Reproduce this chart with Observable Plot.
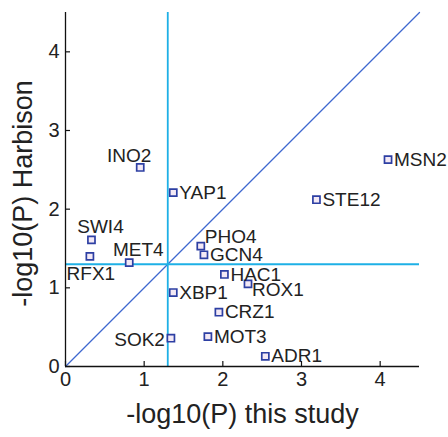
<!DOCTYPE html>
<html>
<head>
<meta charset="utf-8">
<script src="https://cdn.jsdelivr.net/npm/d3@7"></script>
<script src="https://cdn.jsdelivr.net/npm/@observablehq/plot@0.6"></script>
<style>
  html, body { margin: 0; padding: 0; background: #fff; }
</style>
</head>
<body>
<div id="chart"></div>
<script>
const names  = ["INO2","YAP1","MSN2","STE12","SWI4","RFX1","MET4","PHO4","GCN4","HAC1","ROX1","XBP1","CRZ1","MOT3","SOK2","ADR1"];
const xVals  = [0.95, 1.37, 4.10, 3.19, 0.33, 0.31, 0.81, 1.72, 1.76, 2.02, 2.32, 1.37, 1.95, 1.81, 1.34, 2.54];
const yVals  = [2.53, 2.21, 2.63, 2.12, 1.61, 1.40, 1.32, 1.53, 1.42, 1.17, 1.05, 0.94, 0.69, 0.38, 0.36, 0.13];
const labelPos = ["aboveLeft","right","right","right","aboveRight","below","aboveRight","rightUp","right","right","rightDown","right","right","right","left","right"];
const xTicks = [0, 1, 2, 3, 4];
const yTicks = [0, 1, 2, 3, 4];
const threshold = [1.3];
const axisMax = 4.5;
const xLabel = "-log10(P) this study";
const yLabel = "-log10(P) Harbison";

const data = names.map((n, i) => ({name: n, x: xVals[i], y: yVals[i], pos: labelPos[i]}));
const diag = [{x: 0, y: 0}, {x: axisMax, y: axisMax}];
const at = p => data.filter(d => d.pos === p);

const blue = "#2d3fa3";
const cyan = "#1eb0e6";
const font = 19;
const tickFont = 20;
const fmt = d3.format("d");

const chart = Plot.plot({
  width: 448,
  height: 437,
  marginLeft: 65,
  marginRight: 29,
  marginTop: 12,
  marginBottom: 71,
  x: {domain: [0, axisMax]},
  y: {domain: [0, axisMax]},
  style: {fontFamily: "'Liberation Sans', Arial, sans-serif", background: "#fff", color: "#222"},
  marks: [
    Plot.line(diag, {x: "x", y: "y", stroke: "#3f68cf", strokeWidth: 1.3}),
    Plot.ruleX(threshold, {x: d => d, y1: 0, y2: axisMax, stroke: cyan, strokeWidth: 1.8}),
    Plot.ruleY(threshold, {y: d => d, x1: 0, x2: axisMax, stroke: cyan, strokeWidth: 1.8}),
    Plot.ruleX([0], {x: d => d, y1: 0, y2: axisMax, stroke: "#111", strokeWidth: 1.3}),
    Plot.ruleY([0], {y: d => d, x1: 0, x2: axisMax, stroke: "#111", strokeWidth: 1.3}),
    Plot.ruleX(xTicks, {x: d => d, y1: 0, y2: 0, insetTop: -5, stroke: "#111", strokeWidth: 1.2}),
    Plot.ruleY(yTicks, {y: d => d, x1: 0, x2: 0, insetRight: -5, stroke: "#111", strokeWidth: 1.2}),
    Plot.axisX({ticks: xTicks, tickFormat: fmt, tickSize: 0, tickPadding: 5, fontSize: tickFont, label: null}),
    Plot.axisY({ticks: yTicks, tickFormat: fmt, tickSize: 0, tickPadding: 6, fontSize: tickFont, label: null}),
    Plot.dot(data, {x: "x", y: "y", symbol: "square", r: 4, stroke: blue, strokeWidth: 1.7, fill: "#f3e9f5"}),
    Plot.text(at("right"), {x: "x", y: "y", text: "name", textAnchor: "start", dx: 6, fontSize: font, fill: "#222"}),
    Plot.text(at("rightUp"), {x: "x", y: "y", text: "name", textAnchor: "start", dx: 4, dy: -9, fontSize: font, fill: "#222"}),
    Plot.text(at("rightDown"), {x: "x", y: "y", text: "name", textAnchor: "start", dx: 4, dy: 6, fontSize: font, fill: "#222"}),
    Plot.text(at("left"), {x: "x", y: "y", text: "name", textAnchor: "end", dx: -6, dy: 2, fontSize: font, fill: "#222"}),
    Plot.text(at("aboveRight"), {x: "x", y: "y", text: "name", textAnchor: "middle", dx: 9, dy: -13, fontSize: font, fill: "#222"}),
    Plot.text(at("aboveLeft"), {x: "x", y: "y", text: "name", textAnchor: "middle", dx: -11, dy: -12, fontSize: font, fill: "#222"}),
    Plot.text(at("below"), {x: "x", y: "y", text: "name", textAnchor: "middle", dx: 1, dy: 18, fontSize: font, fill: "#222"}),
    Plot.text([xLabel], {text: d => d, frameAnchor: "bottom", textAnchor: "middle", dy: 56, fontSize: 27, fill: "#222"}),
    Plot.text([yLabel], {text: d => d, frameAnchor: "left", textAnchor: "middle", rotate: -90, dx: -42, dy: 4, fontSize: 27, fill: "#222"})
  ]
});
document.getElementById("chart").appendChild(chart);
</script>
</body>
</html>
